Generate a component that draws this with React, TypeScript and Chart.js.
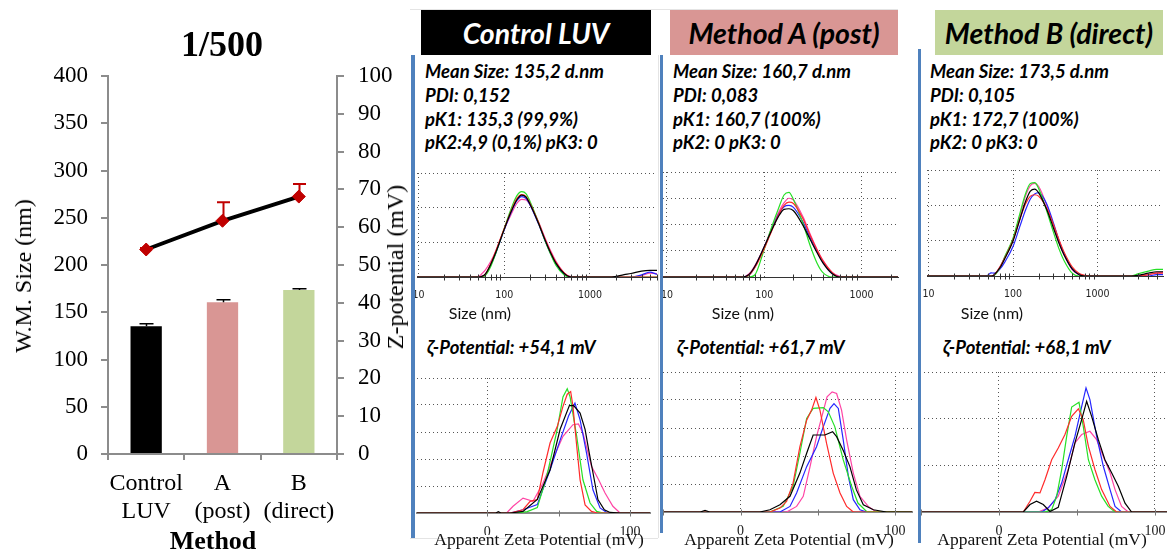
import React, { useEffect, useRef } from "react";
import { Chart, registerables } from "chart.js";

Chart.register(...registerables);

const SERIF = '"Liberation Serif", "Times New Roman", serif';
const SANS = 'Lato, "Liberation Sans", sans-serif';
const NARROW = '"Liberation Sans Narrow", "DejaVu Sans Condensed", "Liberation Sans", sans-serif';

// ---- Summary (1/500): weighted mean size bars + zeta potential line ----
const methodLabels = [["Control", "LUV"], ["A", "(post)"], ["B", "(direct)"]];
const meanSizeNm = [135.2, 160.7, 173.5];
const meanSizeSd = [2.6, 2.6, 1.5];
const zetaMeanMv = [54.1, 61.7, 68.1];
const zetaSd = [0.4, 4.9, 3.3];
const barColors = ["#000000", "#d99694", "#c3d69b"];

// ---- Panel headers and reported values ----
const sampleTitles = ["Control LUV", "Method A (post)", "Method B (direct)"];
const dlsSummaries = [
  ["Mean Size: 135,2 d.nm", "PDI: 0,152", "pK1: 135,3 (99,9%)", "pK2:4,9 (0,1%) pK3: 0"],
  ["Mean Size: 160,7 d.nm", "PDI: 0,083", "pK1: 160,7 (100%)", "pK2: 0 pK3: 0"],
  ["Mean Size: 173,5 d.nm", "PDI: 0,105", "pK1: 172,7 (100%)", "pK2: 0 pK3: 0"],
];
const zetaSummaries = ["ζ-Potential: +54,1 mV", "ζ-Potential: +61,7 mV", "ζ-Potential: +68,1 mV"];

// ---- DLS size distributions (intensity %), five runs each: black, red, green, blue, pink ----
const sizeBinsNm = [9, 40, 45, 50, 55, 60, 70, 80, 100, 120, 140, 160, 180, 200, 250, 300, 350, 400, 500, 600, 700, 800, 1000, 1800, 2500, 3000, 4000, 5000, 6000, 8000];
const sizeDecades = [10, 100, 1000];
const logMinorTicks = [20, 30, 40, 50, 60, 70, 80, 90, 200, 300, 400, 500, 600, 700, 800, 900, 2000, 3000, 4000, 5000, 6000];

const ctrlSizeBlack = [0, 0, 0, 0, 0.1, 0.4, 1.9, 3.6, 6.9, 9.4, 11.1, 11.8, 11.5, 10.5, 7.8, 5.3, 3.4, 2.0, 0.5, 0, 0, 0, 0, 0, 0.35, 0.5, 0.85, 0.95, 0.95, 0.95];
const ctrlSizeRed = [0, 0, 0, 0, 0.1, 0.4, 2.0, 3.8, 7.0, 9.5, 11.3, 11.9, 11.6, 10.6, 7.9, 5.4, 3.5, 2.1, 0.6, 0, 0, 0, 0, 0, 0, 0, 0, 0, 0, 0];
const ctrlSizeGreen = [0, 0, 0, 0, 0, 0.2, 1.6, 3.5, 7.0, 9.8, 11.7, 12.3, 12.0, 10.9, 7.9, 5.2, 3.2, 1.7, 0.3, 0, 0, 0, 0, 0, 0, 0, 0, 0, 0, 0];
const ctrlSizeBlue = [0, 0, 0, 0, 0.1, 0.3, 1.8, 3.5, 6.8, 9.3, 11.0, 11.6, 11.3, 10.4, 7.7, 5.2, 3.3, 1.9, 0.4, 0, 0, 0, 0, 0, 0, 0, 0.3, 0.7, 0.4, 0];
const ctrlSizePink = [0, 0, 0, 0.05, 0.5, 1.0, 2.3, 3.8, 6.9, 9.0, 10.6, 11.2, 11.1, 10.4, 8.0, 5.6, 3.7, 2.3, 0.6, 0.05, 0, 0, 0, 0, 0, 0, 0.2, 0.55, 0.5, 0];

const postSizeBlack = [0, 0, 0, 0, 0, 0, 0.4, 1.6, 4.6, 7.2, 9.2, 10.3, 10.4, 10.1, 7.9, 5.6, 3.7, 2.2, 0.5, 0, 0, 0, 0, 0, 0, 0, 0, 0, 0, 0];
const postSizeRed = [0, 0, 0, 0, 0, 0, 0.3, 1.4, 4.3, 7.1, 9.4, 10.9, 11.4, 11.2, 8.9, 6.2, 4.1, 2.5, 0.7, 0, 0, 0, 0, 0, 0, 0, 0, 0, 0, 0];
const postSizeGreen = [0, 0, 0, 0, 0, 0, 0, 0.3, 4.2, 7.7, 10.4, 12.5, 12.9, 11.8, 8.2, 4.6, 2.1, 0.7, 0, 0, 0, 0, 0, 0, 0, 0, 0, 0, 0, 0];
const postSizeBlue = [0, 0, 0, 0, 0, 0, 0.3, 1.5, 4.5, 7.3, 9.5, 10.7, 10.9, 10.6, 8.4, 5.9, 3.9, 2.3, 0.6, 0, 0, 0, 0, 0, 0, 0, 0, 0, 0, 0];
const postSizePink = [0, 0, 0, 0, 0, 0, 0.5, 1.7, 4.6, 7.5, 9.8, 11.3, 12.0, 11.7, 9.2, 6.4, 4.2, 2.6, 0.7, 0.1, 0, 0, 0, 0, 0, 0, 0, 0, 0, 0];

const directSizeBlack = [0, 0, 0, 0, 0, 0.2, 1.2, 2.5, 5.0, 8.0, 10.5, 12.0, 12.3, 11.8, 9.4, 6.8, 4.6, 3.0, 1.0, 0.2, 0, 0, 0, 0, 0, 0.1, 0.4, 0.6, 0.6, 0.6];
const directSizeRed = [0, 0, 0, 0, 0, 0.2, 1.3, 2.6, 5.1, 8.0, 10.2, 11.3, 11.5, 11.3, 9.6, 7.3, 5.1, 3.4, 1.3, 0.4, 0.1, 0, 0, 0, 0, 0, 0.2, 0.4, 0.4, 0.4];
const directSizeGreen = [0, 0, 0, 0, 0, 0.1, 1.2, 2.8, 5.4, 8.8, 11.6, 13.1, 13.2, 12.4, 9.2, 6.2, 3.8, 2.2, 0.4, 0, 0, 0, 0, 0, 0, 0.3, 0.7, 0.95, 0.95, 0.95];
const directSizeBlue = [0, 0, 0, 0.1, 0.45, 0.4, 1.0, 2.0, 4.2, 7.0, 9.3, 10.9, 11.6, 11.8, 10.2, 7.5, 5.0, 3.2, 1.0, 0.2, 0, 0, 0, 0, 0, 0, 0, 0.2, 0.2, 0.2];
const directSizePink = [0, 0, 0, 0, 0, 0.2, 1.3, 2.7, 5.2, 8.5, 11.3, 12.8, 13.1, 12.7, 10.0, 7.1, 4.7, 3.0, 0.9, 0.2, 0, 0, 0, 0, 0, 0, 0.2, 0.45, 0.5, 0.5];

// ---- Zeta potential distributions (counts, arbitrary units), five runs each ----
const zetaTickValues = [-50, 0, 50, 100];

const ctrlZetaBlackMv = [-60, 6, 7.7, 9.5, 16, 25, 35, 44, 51, 57.5, 60.5, 65, 68.5, 71.5, 74, 77.5, 82, 86, 93, 120];
const ctrlZetaBlack = [0, 0, 0.05, 0, 0, 0.06, 0.5, 1.6, 3.1, 3.98, 3.98, 3.7, 3.1, 2.2, 1.5, 0.5, 0.12, 0.02, 0, 0];
const ctrlZetaRedMv = [-60, 16, 25, 30, 35, 39, 44, 49, 53, 56, 58.4, 60, 62.6, 65, 68.5, 73, 77, 120];
const ctrlZetaRed = [0, 0, 0.12, 0.43, 0.5, 1.5, 2.6, 3.2, 3.95, 4.4, 4.5, 3.95, 2.5, 1.23, 0.3, 0.06, 0, 0];
const ctrlZetaGreenMv = [-60, 20, 28, 35, 41.6, 48.6, 53, 56, 58, 62.6, 67, 72, 76.6, 81, 120];
const ctrlZetaGreen = [0, 0, 0.05, 0.2, 1.35, 3.0, 4.3, 4.6, 4.3, 2.85, 1.23, 0.37, 0.06, 0, 0];
const ctrlZetaBlueMv = [-60, 16, 25, 35, 44, 51, 57, 61.4, 65, 69.6, 74, 79, 83.6, 90.6, 120];
const ctrlZetaBlue = [0, 0, 0.12, 0.31, 1.6, 2.7, 3.6, 4.07, 3.45, 2.2, 0.86, 0.19, 0.02, 0, 0];
const ctrlZetaPinkMv = [-60, 13.5, 18, 25, 32, 39, 46, 53, 60, 63.8, 67, 73, 78, 82.5, 88, 93, 120];
const ctrlZetaPink = [0, 0, 0.25, 0.55, 0.43, 1.1, 2.0, 2.84, 3.27, 3.3, 2.96, 1.73, 1.23, 0.74, 0.25, 0, 0];

const postZetaBlackMv = [-60, -26, -23, -20, 12.5, 19, 25.5, 32, 38.4, 42.8, 47, 51.4, 54.6, 59.6, 62.2, 66.5, 70.8, 75, 79.5, 86, 94.6, 120];
const postZetaBlack = [0, 0, 0.06, 0, 0, 0.08, 0.26, 0.56, 1.39, 2.1, 2.75, 2.75, 2.75, 2.87, 2.69, 2.2, 1.62, 0.79, 0.26, 0.08, 0, 0];
const postZetaRedMv = [-60, 19, 25.5, 29.8, 34, 38.4, 42.8, 46, 48.8, 51.4, 55.7, 60, 64.4, 68.7, 73, 120];
const postZetaRed = [0, 0, 0.14, 0.38, 1.03, 2.33, 3.28, 3.64, 4.09, 3.64, 2.45, 1.39, 0.68, 0.2, 0, 0];
const postZetaGreenMv = [-60, 19, 27.6, 34, 38.4, 42.8, 47, 53.6, 56.8, 61, 66.5, 72, 76, 81.6, 120];
const postZetaGreen = [0, 0, 0.2, 0.91, 2.1, 3.34, 3.7, 3.73, 3.58, 3.05, 1.86, 0.91, 0.32, 0.02, 0];
const postZetaBlueMv = [-60, 25.5, 32, 36.3, 42.8, 49.2, 53.6, 57.9, 60.5, 63.3, 66.5, 69.8, 73, 77.3, 81.6, 120];
const postZetaBlue = [0, 0, 0.2, 0.68, 1.62, 2.33, 3.05, 3.7, 3.87, 3.7, 2.57, 1.27, 0.44, 0.08, 0, 0];
const postZetaPinkMv = [-60, 29.8, 36.3, 40.6, 45, 49.2, 52.6, 56, 59.3, 62.2, 65.4, 68.7, 73, 77.3, 82.7, 88, 120];
const postZetaPink = [0, 0, 0.2, 0.56, 1.62, 2.69, 3.4, 4.11, 4.29, 4.23, 3.64, 2.57, 1.39, 0.56, 0.2, 0, 0];

const directZetaBlackMv = [-60, 15.6, 19.9, 24.1, 28.4, 32.7, 38, 43.4, 48.7, 53, 56.2, 59.4, 63.7, 67.9, 72.2, 76.5, 80.8, 85, 120];
const directZetaBlack = [0, 0, 0.16, 0.23, 0.16, 0.01, 0.1, 0.76, 1.48, 1.98, 2.37, 2.05, 1.55, 1.12, 0.84, 0.55, 0.19, 0, 0];
const directZetaRedMv = [-60, 15.6, 19.9, 23, 26.3, 29.5, 33.8, 38, 42.3, 46.6, 50.9, 54, 57.3, 61.5, 65.8, 71.2, 75.4, 120];
const directZetaRed = [0, 0, 0.23, 0.42, 0.41, 0.69, 1.12, 1.37, 1.66, 2.05, 2.21, 1.98, 1.41, 0.91, 0.48, 0.12, 0, 0];
const directZetaGreenMv = [-60, 29.5, 33.8, 37, 40.2, 43.4, 46.6, 51.3, 54, 57.3, 61.5, 65.8, 70, 74.4, 120];
const directZetaGreen = [0, 0, 0.05, 0.34, 0.91, 1.62, 2.25, 2.35, 1.84, 1.12, 0.69, 0.34, 0.12, 0, 0];
const directZetaBlueMv = [-60, 27.4, 31.6, 35.9, 40.2, 44.4, 48.7, 53, 55.8, 58.3, 62.6, 66.9, 71.2, 74.4, 78.6, 120];
const directZetaBlue = [0, 0, 0.09, 0.26, 0.62, 1.12, 1.62, 2.26, 2.66, 2.41, 1.62, 0.98, 0.48, 0.12, 0, 0];
const directZetaPinkMv = [-60, 25.2, 31.6, 38, 44.4, 48.7, 53, 58.3, 62.6, 66.9, 71.2, 74.4, 78.6, 82.9, 120];
const directZetaPink = [0, 0, 0.09, 0.34, 0.91, 1.48, 1.66, 1.73, 1.55, 1.19, 0.84, 0.48, 0.12, 0, 0];

const runColors = ["#000000", "#ff2b2b", "#26e026", "#2626ff", "#ff45a5"];

const sizeRuns = [
  [ctrlSizeBlack, ctrlSizeRed, ctrlSizeGreen, ctrlSizeBlue, ctrlSizePink],
  [postSizeBlack, postSizeRed, postSizeGreen, postSizeBlue, postSizePink],
  [directSizeBlack, directSizeRed, directSizeGreen, directSizeBlue, directSizePink],
];
const zetaRuns = [
  [[ctrlZetaBlackMv, ctrlZetaBlack], [ctrlZetaRedMv, ctrlZetaRed], [ctrlZetaGreenMv, ctrlZetaGreen], [ctrlZetaBlueMv, ctrlZetaBlue], [ctrlZetaPinkMv, ctrlZetaPink]],
  [[postZetaBlackMv, postZetaBlack], [postZetaRedMv, postZetaRed], [postZetaGreenMv, postZetaGreen], [postZetaBlueMv, postZetaBlue], [postZetaPinkMv, postZetaPink]],
  [[directZetaBlackMv, directZetaBlack], [directZetaRedMv, directZetaRed], [directZetaGreenMv, directZetaGreen], [directZetaBlueMv, directZetaBlue], [directZetaPinkMv, directZetaPink]],
];

// ---- Page layout (pixels) ----
const panels = [
  {
    header: { left: 421, width: 230, bg: "#000000", color: "#ffffff" },
    stripe: { left: 411, top: 55, height: 483, width: 4 },
    textLeft: 425, zetaTextLeft: 427, sizeTitleX: 480, zetaTitleX: 539,
    size: { canvas: { left: 412, top: 165, width: 248, height: 140 }, plot: { left: 417, right: 657, top: 173, bottom: 277 }, xMin: 9.6, xMax: 6050, yMax: 15, yStep: 5 },
    zeta: { canvas: { left: 414, top: 370, width: 246, height: 165 }, plot: { left: 417, right: 650, top: 378, bottom: 513 }, xMin: -49.3, xMax: 114, yMax: 5 },
  },
  {
    header: { left: 670, width: 228, bg: "#d99694", color: "#000000" },
    stripe: { left: 660, top: 55, height: 478, width: 3 },
    textLeft: 673, zetaTextLeft: 677, sizeTitleX: 743, zetaTitleX: 789,
    size: { canvas: { left: 661, top: 164, width: 241, height: 141 }, plot: { left: 663, right: 898, top: 172, bottom: 277 }, xMin: 9.1, xMax: 2380, yMax: 16, yStep: 4 },
    zeta: { canvas: { left: 662, top: 364, width: 252, height: 171 }, plot: { left: 663, right: 912, top: 372, bottom: 512 }, xMin: -50.2, xMax: 111, yMax: 5 },
  },
  {
    header: { left: 935, width: 228, bg: "#c3d69b", color: "#000000" },
    stripe: { left: 918, top: 49, height: 494, width: 3 },
    textLeft: 930, zetaTextLeft: 943, sizeTitleX: 992, zetaTitleX: 1042,
    size: { canvas: { left: 921, top: 162, width: 246, height: 143 }, plot: { left: 927, right: 1163, top: 170, bottom: 276 }, xMin: 9.57, xMax: 5940, yMax: 15, yStep: 5 },
    zeta: { canvas: { left: 919, top: 364, width: 248, height: 171 }, plot: { left: 920, right: 1167, top: 372, bottom: 512 }, xMin: -50.6, xMax: 107.7, yMax: 3 },
  },
];

// Short tick marks straddling the zero baseline
const baselineTicksPlugin: any = {
  id: "baselineTicks",
  afterDatasetsDraw(chart: any, _args: any, opts: any) {
    if (!opts || !opts.values) return;
    const xs = chart.scales.x;
    const y0 = Math.round(chart.scales.y.getPixelForValue(0)) + 0.5;
    const ctx = chart.ctx;
    ctx.save();
    ctx.strokeStyle = opts.color;
    ctx.lineWidth = 1;
    ctx.beginPath();
    for (const v of opts.values) {
      if (v < xs.min || v > xs.max) continue;
      const px = Math.round(xs.getPixelForValue(v)) + 0.5;
      ctx.moveTo(px, y0 - opts.up);
      ctx.lineTo(px, y0 + opts.down);
    }
    ctx.stroke();
    ctx.restore();
  },
};

// Upper error bars for datasets carrying an `errorPlus` array
const errorBarPlugin: any = {
  id: "errorBars",
  afterDatasetsDraw(chart: any) {
    const ctx = chart.ctx;
    chart.data.datasets.forEach((ds: any, i: number) => {
      if (!ds.errorPlus) return;
      const meta = chart.getDatasetMeta(i);
      const yScale = chart.scales[ds.yAxisID];
      ctx.save();
      ctx.strokeStyle = ds.errorColor;
      ctx.lineWidth = ds.errorWidth;
      meta.data.forEach((el: any, j: number) => {
        const x = Math.round(el.x) + 0.5;
        const yv = yScale.getPixelForValue(ds.data[j]);
        const yt = yScale.getPixelForValue(ds.data[j] + ds.errorPlus[j]);
        ctx.beginPath();
        ctx.moveTo(x, yv);
        ctx.lineTo(x, yt);
        ctx.moveTo(x - ds.capHalf, yt);
        ctx.lineTo(x + ds.capHalf, yt);
        ctx.stroke();
      });
      ctx.restore();
    });
  },
};

const AXIS_GREY = "#8c8c8c";

function summaryConfig(): any {
  return {
    type: "bar",
    data: {
      labels: methodLabels,
      datasets: [
        {
          type: "line",
          data: zetaMeanMv,
          yAxisID: "y1",
          borderColor: "#000000",
          borderWidth: 4,
          pointStyle: "rectRot",
          pointRadius: 6.5,
          pointBackgroundColor: "#c00000",
          pointBorderColor: "#c00000",
          pointBorderWidth: 1,
          errorPlus: zetaSd,
          errorColor: "#c00000",
          errorWidth: 2,
          capHalf: 6.5,
          order: 0,
        },
        {
          type: "bar",
          data: meanSizeNm,
          yAxisID: "y",
          backgroundColor: barColors,
          barPercentage: 0.41,
          categoryPercentage: 1,
          errorPlus: meanSizeSd,
          errorColor: "#000000",
          errorWidth: 1.5,
          capHalf: 7,
          order: 1,
        },
      ],
    },
    options: {
      animation: false,
      responsive: false,
      events: [],
      layout: { padding: { top: 76, left: 0, right: 0, bottom: 0 } },
      plugins: { legend: { display: false }, tooltip: { enabled: false } },
      scales: {
        x: {
          grid: { display: true, drawOnChartArea: false, offset: true, tickLength: 6, color: AXIS_GREY, lineWidth: 2 },
          border: { color: AXIS_GREY, width: 2 },
          ticks: { font: { family: SERIF, size: 24, lineHeight: 1.17 }, color: "#000", padding: 10, maxRotation: 0, autoSkip: false },
          afterFit: (s: any) => { s.height = 99; s.paddingLeft = 0; s.paddingRight = 0; },
        },
        y: {
          position: "left",
          min: 0,
          max: 400,
          ticks: { stepSize: 50, font: { family: SERIF, size: 23 }, color: "#000", padding: 13 },
          grid: { drawOnChartArea: false, tickLength: 7, color: AXIS_GREY, lineWidth: 2 },
          border: { color: AXIS_GREY, width: 2 },
          afterFit: (s: any) => { s.width = 108; s.paddingTop = 0; s.paddingBottom = 0; },
        },
        y1: {
          position: "right",
          min: 0,
          max: 100,
          ticks: { stepSize: 10, font: { family: SERIF, size: 23 }, color: "#000", padding: 14 },
          grid: { drawOnChartArea: false, tickLength: 7, color: AXIS_GREY, lineWidth: 2 },
          border: { color: AXIS_GREY, width: 2 },
          afterFit: (s: any) => { s.width = 73; s.paddingTop = 0; s.paddingBottom = 0; },
        },
      },
    },
    plugins: [errorBarPlugin],
  };
}

function sizeConfig(runs: number[][], spec: any): any {
  const { canvas, plot, xMin, xMax, yMax, yStep } = spec;
  return {
    type: "line",
    data: {
      datasets: runs.map((vals, i) => ({
        data: sizeBinsNm.map((x, j) => ({ x, y: vals[j] })),
        borderColor: runColors[i],
        borderWidth: 1.2,
        pointRadius: 0,
        fill: false,
        cubicInterpolationMode: "monotone",
      })),
    },
    options: {
      animation: false,
      responsive: false,
      events: [],
      layout: { padding: { left: 0, bottom: 0, top: plot.top - canvas.top, right: canvas.left + canvas.width - plot.right } },
      plugins: {
        legend: { display: false },
        tooltip: { enabled: false },
        baselineTicks: { values: logMinorTicks, color: "#333333", up: 3, down: 3 },
      },
      scales: {
        x: {
          type: "logarithmic",
          min: xMin,
          max: xMax,
          afterBuildTicks: (s: any) => { s.ticks = sizeDecades.map((v) => ({ value: v })); },
          afterFit: (s: any) => { s.height = canvas.top + canvas.height - plot.bottom; s.paddingLeft = 0; s.paddingRight = 0; },
          ticks: { autoSkip: false, maxRotation: 0, padding: 12, color: "#222", font: { family: NARROW, size: 10.5 }, callback: (v: any) => String(v) },
          grid: { color: "#555555", lineWidth: 1, drawTicks: false },
          border: { display: true, color: "#333333", width: 1, dash: [1, 3] },
        },
        y: {
          min: 0,
          max: yMax,
          ticks: { display: false, stepSize: yStep },
          afterFit: (s: any) => { s.width = plot.left - canvas.left; s.paddingTop = 0; s.paddingBottom = 0; },
          grid: { color: "#555555", lineWidth: 1, drawTicks: false },
          border: { display: false, dash: [1, 3] },
        },
      },
    },
    plugins: [baselineTicksPlugin],
  };
}

function zetaConfig(runs: number[][][], spec: any): any {
  const { canvas, plot, xMin, xMax, yMax } = spec;
  return {
    type: "line",
    data: {
      datasets: runs.map(([mv, counts], i) => ({
        data: mv.map((x, j) => ({ x, y: counts[j] })),
        borderColor: runColors[i],
        borderWidth: 1.2,
        pointRadius: 0,
        fill: false,
        tension: 0,
      })),
    },
    options: {
      animation: false,
      responsive: false,
      events: [],
      layout: { padding: { left: 0, bottom: 0, top: plot.top - canvas.top, right: canvas.left + canvas.width - plot.right } },
      plugins: {
        legend: { display: false },
        tooltip: { enabled: false },
        baselineTicks: { values: zetaTickValues, color: "#777777", up: 3, down: 3 },
      },
      scales: {
        x: {
          type: "linear",
          min: xMin,
          max: xMax,
          afterBuildTicks: (s: any) => { s.ticks = zetaTickValues.map((v) => ({ value: v })); },
          afterFit: (s: any) => { s.height = canvas.top + canvas.height - plot.bottom; s.paddingLeft = 0; s.paddingRight = 0; },
          ticks: {
            autoSkip: false,
            maxRotation: 0,
            padding: 11,
            color: "#222",
            font: { family: SERIF, size: 14 },
            callback: (v: any) => (v === 0 || v === 100 ? String(v) : ""),
          },
          grid: {
            color: (c: any) => (c.tick && (c.tick.value === 0 || c.tick.value === 100) ? "#555555" : "rgba(0,0,0,0)"),
            lineWidth: 1,
            drawTicks: false,
          },
          border: { display: true, color: "#8a8a8a", width: 2, dash: [1, 3] },
        },
        y: {
          min: 0,
          max: yMax,
          ticks: { display: false, stepSize: 1 },
          afterFit: (s: any) => { s.width = plot.left - canvas.left; s.paddingTop = 0; s.paddingBottom = 0; },
          grid: { color: "#555555", lineWidth: 1, drawTicks: false },
          border: { display: false, dash: [1, 3] },
        },
      },
    },
    plugins: [baselineTicksPlugin],
  };
}

function ChartCanvas({ rect, make }: { rect: any; make: () => any }) {
  const ref = useRef<HTMLCanvasElement>(null);
  useEffect(() => {
    const chart = new Chart(ref.current as HTMLCanvasElement, make());
    return () => chart.destroy();
  }, []);
  return (
    <canvas
      ref={ref}
      width={rect.width}
      height={rect.height}
      style={{ position: "absolute", left: rect.left, top: rect.top, width: rect.width, height: rect.height }}
    />
  );
}

const abs = (style: any): any => ({ position: "absolute", whiteSpace: "nowrap", ...style });
const centered = (x: number, y: number, style: any): any =>
  abs({ left: x, top: y, transform: "translate(-50%, -50%)", lineHeight: 1, ...style });

export default function App() {
  return (
    <div style={{ position: "absolute", left: 0, top: 0, width: 1167, height: 553, background: "#ffffff", overflow: "hidden" }}>
      {/* summary chart */}
      <ChartCanvas rect={{ left: 0, top: 0, width: 410, height: 553 }} make={summaryConfig} />
      <div style={centered(222, 44, { fontFamily: SERIF, fontWeight: 700, fontSize: 36, color: "#000" })}>1/500</div>
      <div style={centered(23, 276, { fontFamily: SERIF, fontSize: 24, color: "#000", transform: "translate(-50%, -50%) rotate(-90deg)" })}>W.M. Size (nm)</div>
      <div style={centered(395, 267, { fontFamily: SERIF, fontSize: 24, color: "#000", transform: "translate(-50%, -50%) rotate(-90deg)" })}>Z-potential (mV)</div>
      <div style={centered(213, 541, { fontFamily: SERIF, fontWeight: 700, fontSize: 26, color: "#000" })}>Method</div>

      {/* faint frame around the first measurement panel */}
      <div style={abs({ left: 410, top: 9, width: 488, height: 1, background: "#e4e4e4" })} />
      <div style={abs({ left: 658, top: 55, width: 1, height: 483, background: "#e4e4e4" })} />
      <div style={abs({ left: 410, top: 538, width: 248, height: 1, background: "#e4e4e4" })} />

      {panels.map((p, i) => (
        <React.Fragment key={i}>
          <ChartCanvas rect={p.size.canvas} make={() => sizeConfig(sizeRuns[i], p.size)} />
          <ChartCanvas rect={p.zeta.canvas} make={() => zetaConfig(zetaRuns[i], p.zeta)} />

          <div
            style={abs({
              left: p.header.left, top: 10, width: p.header.width, height: 45, background: p.header.bg,
              color: p.header.color, fontFamily: SANS, fontWeight: 700, fontStyle: "italic", fontSize: 28.5,
              display: "flex", alignItems: "center", justifyContent: "center",
            })}
          >
            {sampleTitles[i]}
          </div>

          <div style={abs({ left: p.textLeft, top: 60, fontFamily: SANS, fontWeight: 700, fontStyle: "italic", fontSize: 18.5, lineHeight: "23.8px", color: "#000" })}>
            {dlsSummaries[i].map((line, k) => (
              <div key={k}>{line}</div>
            ))}
          </div>

          <div style={abs({ left: p.zetaTextLeft, top: 335, fontFamily: SANS, fontWeight: 700, fontStyle: "italic", fontSize: 18.5, lineHeight: "24px", color: "#000" })}>
            {zetaSummaries[i]}
          </div>

          <div style={centered(p.sizeTitleX, 313, { fontFamily: SANS, fontSize: 16, color: "#111" })}>Size (nm)</div>
          <div style={centered(p.zetaTitleX, 540, { fontFamily: SERIF, fontSize: 17.5, color: "#111" })}>Apparent Zeta Potential (mV)</div>

          <div style={abs({ left: p.stripe.left, top: p.stripe.top, width: p.stripe.width, height: p.stripe.height, background: "#4f81bd" })} />
        </React.Fragment>
      ))}
    </div>
  );
}
